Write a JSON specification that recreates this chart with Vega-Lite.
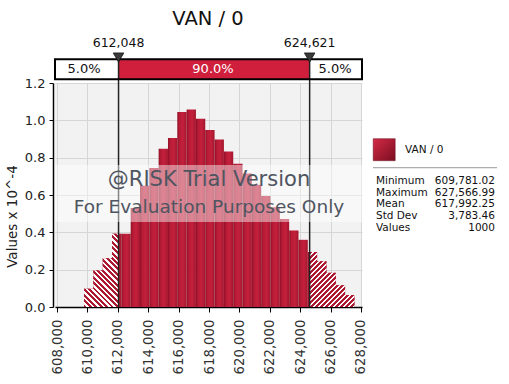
{
  "$schema": "https://vega.github.io/schema/vega-lite/v6.json",
  "width": 307,
  "height": 224,
  "autosize": {"type": "none"},
  "padding": {"left": 55, "top": 83, "right": 147, "bottom": 77},
  "background": "#ffffff",
  "config": {"view": {"fill": "#f2f2f2", "stroke": null}, "font": "DejaVu Sans"},
  "resolve": {"axis": {"x": "independent", "y": "independent"}},
  "layer": [
    {
      "data": {"values": [
        {"bin_start": 609781, "bin_end": 610394, "density": 0.098},
        {"bin_start": 610394, "bin_end": 611008, "density": 0.196},
        {"bin_start": 611008, "bin_end": 611621, "density": 0.261},
        {"bin_start": 611621, "bin_end": 612234, "density": 0.393},
        {"bin_start": 612234, "bin_end": 612848, "density": 0.393},
        {"bin_start": 612848, "bin_end": 613461, "density": 0.53},
        {"bin_start": 613461, "bin_end": 614074, "density": 0.65},
        {"bin_start": 614074, "bin_end": 614687, "density": 0.745},
        {"bin_start": 614687, "bin_end": 615301, "density": 0.848},
        {"bin_start": 615301, "bin_end": 615914, "density": 0.905},
        {"bin_start": 615914, "bin_end": 616527, "density": 1.045},
        {"bin_start": 616527, "bin_end": 617141, "density": 1.058},
        {"bin_start": 617141, "bin_end": 617754, "density": 1.009},
        {"bin_start": 617754, "bin_end": 618367, "density": 0.948},
        {"bin_start": 618367, "bin_end": 618981, "density": 0.897},
        {"bin_start": 618981, "bin_end": 619594, "density": 0.833},
        {"bin_start": 619594, "bin_end": 620207, "density": 0.768},
        {"bin_start": 620207, "bin_end": 620820, "density": 0.715},
        {"bin_start": 620820, "bin_end": 621434, "density": 0.655},
        {"bin_start": 621434, "bin_end": 622047, "density": 0.595},
        {"bin_start": 622047, "bin_end": 622660, "density": 0.535},
        {"bin_start": 622660, "bin_end": 623274, "density": 0.472},
        {"bin_start": 623274, "bin_end": 623887, "density": 0.41},
        {"bin_start": 623887, "bin_end": 624500, "density": 0.36},
        {"bin_start": 624500, "bin_end": 625113, "density": 0.295},
        {"bin_start": 625113, "bin_end": 625727, "density": 0.245},
        {"bin_start": 625727, "bin_end": 626340, "density": 0.183},
        {"bin_start": 626340, "bin_end": 626953, "density": 0.116},
        {"bin_start": 626953, "bin_end": 627567, "density": 0.064}
      ]},
      "mark": {"type": "rect", "stroke": null, "fill": {"gradient": "linear", "x1": 0, "y1": 0, "x2": 1, "y2": 0, "stops": [
        {"offset": 0, "color": "#8f1026"}, {"offset": 0.25, "color": "#b81b36"}, {"offset": 0.6, "color": "#c3203c"}, {"offset": 1, "color": "#a3162e"}]}},
      "encoding": {
        "x": {"field": "bin_start", "type": "quantitative",
          "scale": {"domain": [607868, 628066], "nice": false, "zero": false},
          "axis": {"values": [608000, 610000, 612000, 614000, 616000, 618000, 620000, 622000, 624000, 626000, 628000],
            "format": ",d", "labelAngle": 270, "labelFontSize": 13.3, "labelColor": "#333333", "labelPadding": 7,
            "labelOverlap": false, "labelBound": false, "labelFlush": false,
            "tickColor": "#000000", "tickSize": 5, "domainColor": "#000000", "domainWidth": 1.5,
            "grid": true, "gridColor": "#d6d6d6", "gridWidth": 1, "title": null}},
        "x2": {"field": "bin_end"},
        "y": {"field": "density", "type": "quantitative",
          "scale": {"domain": [0, 1.2], "nice": false},
          "axis": {"values": [0, 0.2, 0.4, 0.6, 0.8, 1.0, 1.2], "format": ".1f", "labelFontSize": 13, "labelColor": "#222222",
            "labelOverlap": false, "labelBound": false, "labelFlush": false,
            "labelPadding": 4, "tickSize": 4, "tickColor": "#000000", "offset": 2, "domainColor": "#000000", "domainWidth": 1.5,
            "grid": true, "gridColor": "#d6d6d6", "gridWidth": 1,
            "title": "Values x 10^-4", "titleFontSize": 13.5, "titleFontWeight": "normal", "titleColor": "#222222",
            "titleX": -41, "titleY": 133, "titleBaseline": "middle", "titleAlign": "center"}},
        "y2": {"datum": 0}
      }
    },
    {
      "data": {"values": [
        {"x": 609781, "density": 0.098},
        {"x": 610394, "density": 0.196},
        {"x": 611008, "density": 0.261},
        {"x": 611621, "density": 0.393},
        {"x": 612048, "density": 0.393}
      ]},
      "mark": {"type": "area", "interpolate": "step-after", "stroke": null, "fill": {"gradient": "linear", "x1": 0, "y1": 1, "x2": 0.565, "y2": -0.204, "stops": [
        {"offset": 0, "color": "#ad1930"}, {"offset": 0.027, "color": "#ad1930"}, {"offset": 0.027, "color": "#ffffff"}, {"offset": 0.05, "color": "#ffffff"},
        {"offset": 0.05, "color": "#ad1930"}, {"offset": 0.077, "color": "#ad1930"}, {"offset": 0.077, "color": "#ffffff"}, {"offset": 0.1, "color": "#ffffff"},
        {"offset": 0.1, "color": "#ad1930"}, {"offset": 0.127, "color": "#ad1930"}, {"offset": 0.127, "color": "#ffffff"}, {"offset": 0.15, "color": "#ffffff"},
        {"offset": 0.15, "color": "#ad1930"}, {"offset": 0.177, "color": "#ad1930"}, {"offset": 0.177, "color": "#ffffff"}, {"offset": 0.2, "color": "#ffffff"},
        {"offset": 0.2, "color": "#ad1930"}, {"offset": 0.227, "color": "#ad1930"}, {"offset": 0.227, "color": "#ffffff"}, {"offset": 0.25, "color": "#ffffff"},
        {"offset": 0.25, "color": "#ad1930"}, {"offset": 0.277, "color": "#ad1930"}, {"offset": 0.277, "color": "#ffffff"}, {"offset": 0.3, "color": "#ffffff"},
        {"offset": 0.3, "color": "#ad1930"}, {"offset": 0.327, "color": "#ad1930"}, {"offset": 0.327, "color": "#ffffff"}, {"offset": 0.35, "color": "#ffffff"},
        {"offset": 0.35, "color": "#ad1930"}, {"offset": 0.377, "color": "#ad1930"}, {"offset": 0.377, "color": "#ffffff"}, {"offset": 0.4, "color": "#ffffff"},
        {"offset": 0.4, "color": "#ad1930"}, {"offset": 0.427, "color": "#ad1930"}, {"offset": 0.427, "color": "#ffffff"}, {"offset": 0.45, "color": "#ffffff"},
        {"offset": 0.45, "color": "#ad1930"}, {"offset": 0.477, "color": "#ad1930"}, {"offset": 0.477, "color": "#ffffff"}, {"offset": 0.5, "color": "#ffffff"},
        {"offset": 0.5, "color": "#ad1930"}, {"offset": 0.527, "color": "#ad1930"}, {"offset": 0.527, "color": "#ffffff"}, {"offset": 0.55, "color": "#ffffff"},
        {"offset": 0.55, "color": "#ad1930"}, {"offset": 0.577, "color": "#ad1930"}, {"offset": 0.577, "color": "#ffffff"}, {"offset": 0.6, "color": "#ffffff"},
        {"offset": 0.6, "color": "#ad1930"}, {"offset": 0.627, "color": "#ad1930"}, {"offset": 0.627, "color": "#ffffff"}, {"offset": 0.65, "color": "#ffffff"},
        {"offset": 0.65, "color": "#ad1930"}, {"offset": 0.677, "color": "#ad1930"}, {"offset": 0.677, "color": "#ffffff"}, {"offset": 0.7, "color": "#ffffff"},
        {"offset": 0.7, "color": "#ad1930"}, {"offset": 0.727, "color": "#ad1930"}, {"offset": 0.727, "color": "#ffffff"}, {"offset": 0.75, "color": "#ffffff"},
        {"offset": 0.75, "color": "#ad1930"}, {"offset": 0.777, "color": "#ad1930"}, {"offset": 0.777, "color": "#ffffff"}, {"offset": 0.8, "color": "#ffffff"},
        {"offset": 0.8, "color": "#ad1930"}, {"offset": 0.827, "color": "#ad1930"}, {"offset": 0.827, "color": "#ffffff"}, {"offset": 0.85, "color": "#ffffff"},
        {"offset": 0.85, "color": "#ad1930"}, {"offset": 0.877, "color": "#ad1930"}, {"offset": 0.877, "color": "#ffffff"}, {"offset": 0.9, "color": "#ffffff"},
        {"offset": 0.9, "color": "#ad1930"}, {"offset": 0.927, "color": "#ad1930"}, {"offset": 0.927, "color": "#ffffff"}, {"offset": 0.95, "color": "#ffffff"},
        {"offset": 0.95, "color": "#ad1930"}, {"offset": 0.977, "color": "#ad1930"}, {"offset": 0.977, "color": "#ffffff"}, {"offset": 1, "color": "#ffffff"}]}},
      "encoding": {
        "x": {"field": "x", "type": "quantitative", "axis": null},
        "y": {"field": "density", "type": "quantitative", "axis": null}
      }
    },
    {
      "data": {"values": [
        {"x": 624621, "density": 0.295},
        {"x": 625113, "density": 0.245},
        {"x": 625727, "density": 0.183},
        {"x": 626340, "density": 0.116},
        {"x": 626953, "density": 0.064},
        {"x": 627567, "density": 0.064}
      ]},
      "mark": {"type": "area", "interpolate": "step-after", "stroke": null, "fill": {"gradient": "linear", "x1": 0, "y1": 0, "x2": 0.8875, "y2": 1.0915, "stops": [
        {"offset": 0, "color": "#ad1930"}, {"offset": 0.027, "color": "#ad1930"}, {"offset": 0.027, "color": "#ffffff"}, {"offset": 0.05, "color": "#ffffff"},
        {"offset": 0.05, "color": "#ad1930"}, {"offset": 0.077, "color": "#ad1930"}, {"offset": 0.077, "color": "#ffffff"}, {"offset": 0.1, "color": "#ffffff"},
        {"offset": 0.1, "color": "#ad1930"}, {"offset": 0.127, "color": "#ad1930"}, {"offset": 0.127, "color": "#ffffff"}, {"offset": 0.15, "color": "#ffffff"},
        {"offset": 0.15, "color": "#ad1930"}, {"offset": 0.177, "color": "#ad1930"}, {"offset": 0.177, "color": "#ffffff"}, {"offset": 0.2, "color": "#ffffff"},
        {"offset": 0.2, "color": "#ad1930"}, {"offset": 0.227, "color": "#ad1930"}, {"offset": 0.227, "color": "#ffffff"}, {"offset": 0.25, "color": "#ffffff"},
        {"offset": 0.25, "color": "#ad1930"}, {"offset": 0.277, "color": "#ad1930"}, {"offset": 0.277, "color": "#ffffff"}, {"offset": 0.3, "color": "#ffffff"},
        {"offset": 0.3, "color": "#ad1930"}, {"offset": 0.327, "color": "#ad1930"}, {"offset": 0.327, "color": "#ffffff"}, {"offset": 0.35, "color": "#ffffff"},
        {"offset": 0.35, "color": "#ad1930"}, {"offset": 0.377, "color": "#ad1930"}, {"offset": 0.377, "color": "#ffffff"}, {"offset": 0.4, "color": "#ffffff"},
        {"offset": 0.4, "color": "#ad1930"}, {"offset": 0.427, "color": "#ad1930"}, {"offset": 0.427, "color": "#ffffff"}, {"offset": 0.45, "color": "#ffffff"},
        {"offset": 0.45, "color": "#ad1930"}, {"offset": 0.477, "color": "#ad1930"}, {"offset": 0.477, "color": "#ffffff"}, {"offset": 0.5, "color": "#ffffff"},
        {"offset": 0.5, "color": "#ad1930"}, {"offset": 0.527, "color": "#ad1930"}, {"offset": 0.527, "color": "#ffffff"}, {"offset": 0.55, "color": "#ffffff"},
        {"offset": 0.55, "color": "#ad1930"}, {"offset": 0.577, "color": "#ad1930"}, {"offset": 0.577, "color": "#ffffff"}, {"offset": 0.6, "color": "#ffffff"},
        {"offset": 0.6, "color": "#ad1930"}, {"offset": 0.627, "color": "#ad1930"}, {"offset": 0.627, "color": "#ffffff"}, {"offset": 0.65, "color": "#ffffff"},
        {"offset": 0.65, "color": "#ad1930"}, {"offset": 0.677, "color": "#ad1930"}, {"offset": 0.677, "color": "#ffffff"}, {"offset": 0.7, "color": "#ffffff"},
        {"offset": 0.7, "color": "#ad1930"}, {"offset": 0.727, "color": "#ad1930"}, {"offset": 0.727, "color": "#ffffff"}, {"offset": 0.75, "color": "#ffffff"},
        {"offset": 0.75, "color": "#ad1930"}, {"offset": 0.777, "color": "#ad1930"}, {"offset": 0.777, "color": "#ffffff"}, {"offset": 0.8, "color": "#ffffff"},
        {"offset": 0.8, "color": "#ad1930"}, {"offset": 0.827, "color": "#ad1930"}, {"offset": 0.827, "color": "#ffffff"}, {"offset": 0.85, "color": "#ffffff"},
        {"offset": 0.85, "color": "#ad1930"}, {"offset": 0.877, "color": "#ad1930"}, {"offset": 0.877, "color": "#ffffff"}, {"offset": 0.9, "color": "#ffffff"},
        {"offset": 0.9, "color": "#ad1930"}, {"offset": 0.927, "color": "#ad1930"}, {"offset": 0.927, "color": "#ffffff"}, {"offset": 0.95, "color": "#ffffff"},
        {"offset": 0.95, "color": "#ad1930"}, {"offset": 0.977, "color": "#ad1930"}, {"offset": 0.977, "color": "#ffffff"}, {"offset": 1, "color": "#ffffff"}]}},
      "encoding": {
        "x": {"field": "x", "type": "quantitative", "axis": null},
        "y": {"field": "density", "type": "quantitative", "axis": null}
      }
    },
    {
      "data": {"values": [{"value": 612048}, {"value": 624621}]},
      "mark": {"type": "rule", "color": "#222222", "strokeWidth": 1.5},
      "encoding": {
        "x": {"field": "value", "type": "quantitative", "axis": null},
        "y": {"datum": 0, "axis": null},
        "y2": {"datum": 1.327}
      }
    },
    {
      "data": {"values": [{}]},
      "mark": {"type": "rect", "fill": "#ffffff", "opacity": 0.45},
      "encoding": {
        "x": {"datum": 607868, "axis": null},
        "x2": {"datum": 628066},
        "y": {"datum": 0.4554, "axis": null},
        "y2": {"datum": 0.7607}
      }
    },
    {
      "data": {"values": [{}]},
      "mark": {"type": "text", "text": "@RISK Trial Version", "fontSize": 21, "color": "#4f5560", "align": "center", "baseline": "middle"},
      "encoding": {"x": {"datum": 618000, "axis": null}, "y": {"datum": 0.68, "axis": null}}
    },
    {
      "data": {"values": [{}]},
      "mark": {"type": "text", "text": "For Evaluation Purposes Only", "fontSize": 18.5, "color": "#4f5560", "align": "center", "baseline": "middle"},
      "encoding": {"x": {"datum": 618000, "axis": null}, "y": {"datum": 0.5357, "axis": null}}
    },
    {
      "data": {"values": [{}]},
      "mark": {"type": "rect", "fill": "#ffffff"},
      "encoding": {
        "x": {"datum": 607868, "axis": null},
        "x2": {"datum": 628066},
        "y": {"datum": 1.22, "axis": null},
        "y2": {"datum": 1.327}
      }
    },
    {
      "data": {"values": [{"low": 612048, "high": 624621}]},
      "mark": {"type": "rect", "fill": "#cf1f3d"},
      "encoding": {
        "x": {"field": "low", "type": "quantitative", "axis": null},
        "x2": {"field": "high"},
        "y": {"datum": 1.22, "axis": null},
        "y2": {"datum": 1.327}
      }
    },
    {
      "data": {"values": [{"value": 612048}, {"value": 624621}]},
      "mark": {"type": "rule", "color": "#222222", "strokeWidth": 1.5},
      "encoding": {
        "x": {"field": "value", "type": "quantitative", "axis": null},
        "y": {"datum": 1.22, "axis": null},
        "y2": {"datum": 1.327}
      }
    },
    {
      "data": {"values": [{}]},
      "mark": {"type": "rect", "fillOpacity": 0, "stroke": "#000000", "strokeWidth": 2},
      "encoding": {
        "x": {"datum": 607868, "axis": null},
        "x2": {"datum": 628066},
        "y": {"datum": 1.22, "axis": null},
        "y2": {"datum": 1.327}
      }
    },
    {
      "data": {"values": [{}]},
      "mark": {"type": "text", "text": "5.0%", "fontSize": 13, "color": "#111111", "align": "center", "baseline": "middle"},
      "encoding": {"x": {"datum": 609776, "axis": null}, "y": {"datum": 1.2734, "axis": null}}
    },
    {
      "data": {"values": [{}]},
      "mark": {"type": "text", "text": "90.0%", "fontSize": 13, "color": "#ffffff", "align": "center", "baseline": "middle"},
      "encoding": {"x": {"datum": 618263, "axis": null}, "y": {"datum": 1.2734, "axis": null}}
    },
    {
      "data": {"values": [{}]},
      "mark": {"type": "text", "text": "5.0%", "fontSize": 13, "color": "#111111", "align": "center", "baseline": "middle"},
      "encoding": {"x": {"datum": 626289, "axis": null}, "y": {"datum": 1.2734, "axis": null}}
    },
    {
      "data": {"values": [{"value": 612048}, {"value": 624621}]},
      "mark": {"type": "point", "shape": "triangle-down", "size": 110, "filled": true, "fill": "#3a3a3a", "stroke": "#111111", "strokeWidth": 0.8, "opacity": 1},
      "encoding": {
        "x": {"field": "value", "type": "quantitative", "axis": null},
        "y": {"datum": 1.3366, "axis": null}
      }
    },
    {
      "data": {"values": [{"value": 612048}, {"value": 624621}]},
      "mark": {"type": "text", "fontSize": 12.5, "color": "#111111", "align": "center", "baseline": "middle"},
      "encoding": {
        "x": {"field": "value", "type": "quantitative", "axis": null},
        "y": {"datum": 1.4143, "axis": null},
        "text": {"field": "value", "type": "quantitative", "format": ",d"}
      }
    },
    {
      "data": {"values": [{}]},
      "mark": {"type": "text", "text": "VAN / 0", "fontSize": 19.5, "color": "#111111", "align": "center", "baseline": "middle"},
      "encoding": {"x": {"datum": 617934, "axis": null}, "y": {"datum": 1.5402, "axis": null}}
    },
    {
      "data": {"values": [{}]},
      "mark": {"type": "point", "shape": "square", "size": 484, "filled": true, "opacity": 1, "stroke": "#6a0c1c", "strokeWidth": 0.5,
        "fill": {"gradient": "linear", "x1": 0, "y1": 0, "x2": 1, "y2": 1, "stops": [{"offset": 0, "color": "#d42a46"}, {"offset": 1, "color": "#7a0e20"}]}},
      "encoding": {"x": {"datum": 629526, "axis": null}, "y": {"datum": 0.8427, "axis": null}}
    },
    {
      "data": {"values": [{}]},
      "mark": {"type": "text", "text": "VAN / 0", "fontSize": 10.5, "color": "#111111", "align": "left", "baseline": "middle"},
      "encoding": {"x": {"datum": 630895, "axis": null}, "y": {"datum": 0.841, "axis": null}}
    },
    {
      "data": {"values": [{}]},
      "mark": {"type": "rule", "color": "#9a9a9a", "strokeWidth": 1},
      "encoding": {"x": {"datum": 628789, "axis": null}, "x2": {"datum": 636947}, "y": {"datum": 0.7462, "axis": null}}
    },
    {
      "data": {"values": [{}]},
      "mark": {"type": "text", "text": ["Minimum", "Maximum", "Mean", "Std Dev", "Values"], "lineHeight": 11.67, "fontSize": 10.5, "color": "#111111", "align": "left", "baseline": "alphabetic"},
      "encoding": {"x": {"datum": 628986, "axis": null}, "y": {"datum": 0.6589, "axis": null}}
    },
    {
      "data": {"values": [{}]},
      "mark": {"type": "text", "text": ["609,781.02", "627,566.99", "617,992.25", "3,783.46", "1000"], "lineHeight": 11.67, "fontSize": 10.5, "color": "#111111", "align": "right", "baseline": "alphabetic"},
      "encoding": {"x": {"datum": 636815, "axis": null}, "y": {"datum": 0.6589, "axis": null}}
    }
  ]
}
